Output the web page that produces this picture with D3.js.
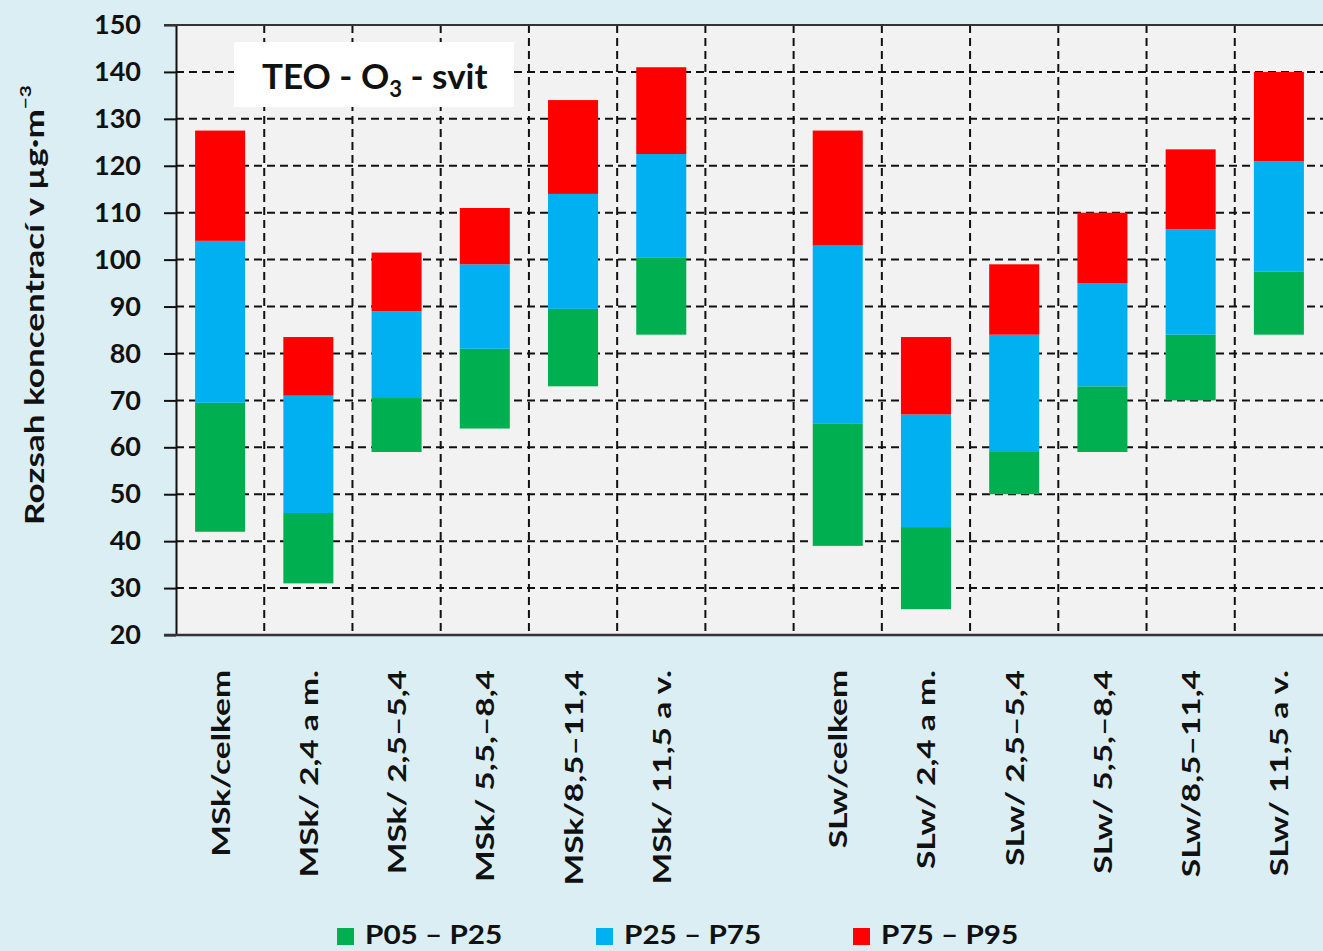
<!DOCTYPE html>
<html>
<head>
<meta charset="utf-8">
<script src="https://cdn.jsdelivr.net/npm/d3@7/dist/d3.min.js"></script>
<style>
  html, body { margin: 0; padding: 0; background: #dbeef4; overflow: hidden; }
  svg { display: block; }
  text { font-family: Lato, "Open Sans", sans-serif; fill: #111; }
</style>
</head>
<body>
<svg id="chart" width="1323" height="951"></svg>
<script>
// ---- data ----
const categories = ["MSk/celkem", "MSk/ 2,4 a m.", "MSk/ 2,5–5,4", "MSk/ 5,5,–8,4", "MSk/8,5–11,4", "MSk/ 11,5 a v.", "",
                    "SLw/celkem", "SLw/ 2,4 a m.", "SLw/ 2,5–5,4", "SLw/ 5,5,–8,4", "SLw/8,5–11,4", "SLw/ 11,5 a v."];
const p05 = [42, 31, 59, 64, 73, 84, null, 39, 25.5, 50, 59, 70, 84];
const p25 = [69.5, 46, 70.5, 81, 89.5, 100.5, null, 65, 43, 59, 73, 84, 97.5];
const p75 = [104, 71, 89, 99, 114, 122.5, null, 103, 67, 84, 95, 106.5, 121];
const p95 = [127.5, 83.5, 101.5, 111, 134, 141, null, 127.5, 83.5, 99, 110, 123.5, 140];
const yTicks = [20, 30, 40, 50, 60, 70, 80, 90, 100, 110, 120, 130, 140, 150];
const seriesNames = ["P05 – P25", "P25 – P75", "P75 – P95"];
const seriesColors = ["#00b050", "#00b0f0", "#ff0000"];

// ---- layout ----
const svg = d3.select("#chart");
const plot = { left: 176, right: 1323, top: 25, bottom: 635 };

const x = d3.scaleBand().domain(d3.range(categories.length)).range([plot.left, plot.right]).paddingInner(0).paddingOuter(0);
const y = d3.scaleLinear().domain([20, 150]).range([plot.bottom, plot.top]);

// plot background
svg.append("rect")
  .attr("x", plot.left).attr("y", plot.top)
  .attr("width", plot.right - plot.left).attr("height", plot.bottom - plot.top)
  .attr("fill", "#f2f2f2");

// horizontal grid (dashed)
svg.append("g").selectAll("line").data(yTicks.filter(t => t > 20 && t < 150)).join("line")
  .attr("x1", plot.left).attr("x2", plot.right)
  .attr("y1", d => y(d)).attr("y2", d => y(d))
  .attr("stroke", "#111").attr("stroke-width", 2).attr("stroke-dasharray", "8,5");

// vertical grid (dashed) at category boundaries
svg.append("g").selectAll("line").data(d3.range(1, categories.length)).join("line")
  .attr("x1", i => x(i)).attr("x2", i => x(i))
  .attr("y1", plot.top).attr("y2", plot.bottom)
  .attr("stroke", "#111").attr("stroke-width", 2).attr("stroke-dasharray", "8,5");

// bars (stacked floating)
const segs = [];
categories.forEach((c, i) => {
  if (p05[i] == null) return;
  segs.push({ i, lo: p05[i], hi: p25[i], s: 0 });
  segs.push({ i, lo: p25[i], hi: p75[i], s: 1 });
  segs.push({ i, lo: p75[i], hi: p95[i], s: 2 });
});
const barW = x.bandwidth() * 0.567;
svg.append("g").selectAll("rect").data(segs).join("rect")
  .attr("x", d => x(d.i) + (x.bandwidth() - barW) / 2)
  .attr("width", barW)
  .attr("y", d => y(d.hi))
  .attr("height", d => y(d.lo) - y(d.hi))
  .attr("fill", d => seriesColors[d.s]);

// y axis
const yAxis = d3.axisLeft(y).tickValues(yTicks).tickSize(12).tickPadding(23).tickSizeOuter(0);
const gy = svg.append("g").attr("transform", `translate(${plot.left},0)`).call(yAxis);
gy.select(".domain").attr("stroke", "#111").attr("stroke-width", 2);
gy.selectAll(".tick line").attr("stroke", "#111").attr("stroke-width", 2);
gy.selectAll(".tick text").attr("font-size", 27).attr("font-weight", 700)
  .attr("font-family", "Lato, sans-serif").attr("fill", "#111");

// top & bottom borders
svg.append("line").attr("x1", plot.left - 12).attr("x2", plot.right)
  .attr("y1", y(150)).attr("y2", y(150)).attr("stroke", "#333").attr("stroke-width", 2);
svg.append("line").attr("x1", plot.left - 12).attr("x2", plot.right)
  .attr("y1", y(20)).attr("y2", y(20)).attr("stroke", "#333").attr("stroke-width", 2.5);

// x labels (rotated)
const xAxis = d3.axisBottom(x).tickFormat(i => categories[i]).tickSize(0).tickPadding(0);
const gx = svg.append("g").attr("transform", `translate(0,${plot.bottom})`).call(xAxis);
gx.select(".domain").remove();
gx.selectAll(".tick text")
  .attr("font-size", 25).attr("font-weight", 700).attr("font-family", "Lato, sans-serif").attr("fill", "#111")
  .attr("text-anchor", "end")
  .attr("transform", "translate(0,35) rotate(-90) scale(1.34,1)")
  .attr("x", 0).attr("y", 0).attr("dy", "0.38em");

// title box
const tg = svg.append("g");
tg.append("rect").attr("x", 234).attr("y", 42).attr("width", 280).attr("height", 65).attr("fill", "#ffffff");
const tt = tg.append("text").attr("x", 262).attr("y", 89)
  .attr("font-size", 35).attr("font-weight", 700).attr("fill", "#111");
tt.append("tspan").text("TEO - O");
tt.append("tspan").text("3").attr("font-size", 22).attr("dy", 8);
tt.append("tspan").text(" - svit").attr("dy", -8);

// y axis label
const yl = svg.append("text")
  .attr("transform", `translate(44,${(plot.top + plot.bottom) / 2 - 25}) rotate(-90) scale(1.3,1)`)
  .attr("text-anchor", "middle")
  .attr("font-size", 27).attr("font-weight", 700).attr("fill", "#111");
yl.append("tspan").text("Rozsah koncentrací v µg·m");
yl.append("tspan").text("−3").attr("font-size", 16).attr("dy", -13);

// legend
const lg = svg.append("g").selectAll("g").data(seriesNames).join("g")
  .attr("transform", (d, i) => `translate(${[337, 596, 853][i]},0)`);
lg.append("rect").attr("x", 0).attr("y", 928).attr("width", 17).attr("height", 17)
  .attr("fill", (d, i) => seriesColors[i]);
lg.append("text").attr("transform", "translate(28,944) scale(1.1,1)").text(d => d)
  .attr("font-size", 27).attr("font-weight", 700).attr("fill", "#111");
</script>
</body>
</html>
